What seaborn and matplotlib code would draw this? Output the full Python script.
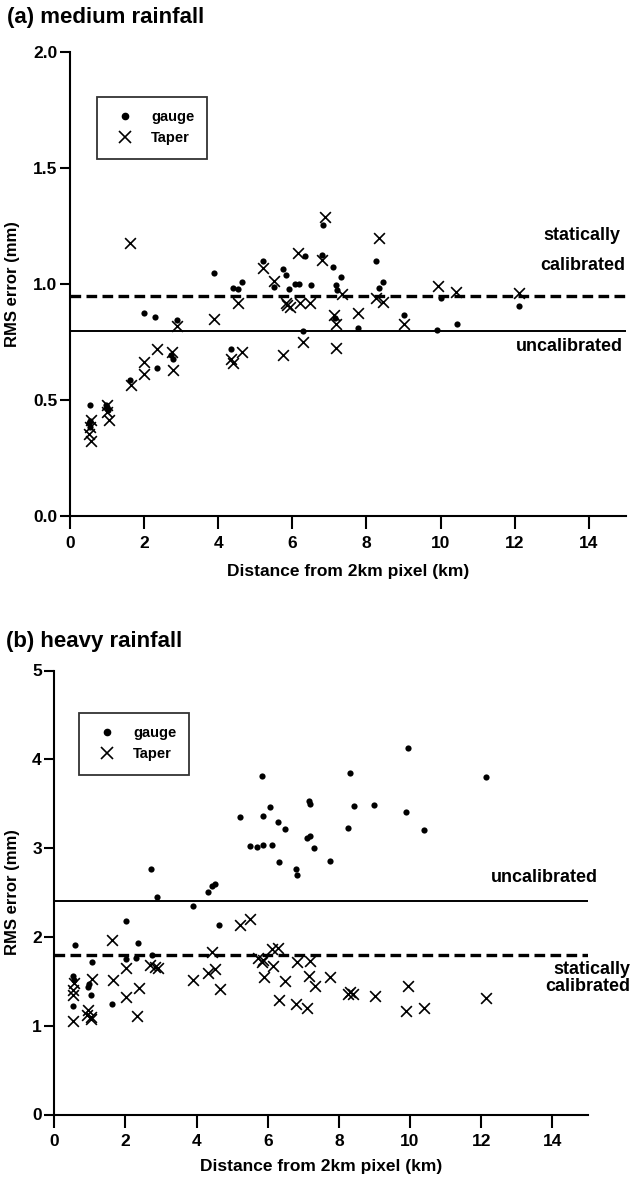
import numpy as np
import pandas as pd
import matplotlib
matplotlib.use("Agg")
import matplotlib.pyplot as plt
import seaborn as sns
from matplotlib.lines import Line2D

# ---------------- data ----------------
# panel (a) medium rainfall
a_gauge_x = [3.89, 4.41, 4.53, 4.65, 2.00, 2.30, 2.90, 2.73, 2.79, 2.36, 1.61, 0.54, 0.53, 0.55, 0.52,
             0.98, 1.02, 1.00, 4.34, 6.82, 5.22, 6.34, 6.80, 7.11, 7.31, 8.27, 8.45, 8.34, 5.74, 5.83,
             5.51, 6.08, 6.17, 6.50, 5.90, 7.18, 7.21, 10.0, 7.15, 7.76, 9.02, 9.91, 6.28, 10.45, 12.13]
a_gauge_y = [1.05, 0.985, 0.978, 1.01, 0.875, 0.857, 0.846, 0.694, 0.676, 0.641, 0.586, 0.478, 0.385, 0.41, 0.40,
             0.48, 0.46, 0.47, 0.723, 1.256, 1.10, 1.122, 1.127, 1.076, 1.03, 1.099, 1.01, 0.983, 1.065, 1.04,
             0.99, 1.0, 1.0, 0.997, 0.978, 0.997, 0.975, 0.94, 0.853, 0.81, 0.867, 0.805, 0.80, 0.831, 0.906]
a_taper_x = [1.62, 4.53, 2.90, 3.89, 2.34, 2.75, 2.79, 2.01, 2.01, 1.64, 0.56, 0.52, 0.58, 0.53, 0.99,
             0.99, 1.04, 4.34, 4.41, 4.65, 8.35, 5.22, 6.16, 6.80, 6.89, 5.51, 7.33, 5.84, 5.93, 5.86,
             6.21, 6.49, 8.27, 8.45, 9.94, 7.13, 7.17, 7.76, 9.02, 6.28, 5.74, 7.18, 10.42, 12.13]
a_taper_y = [1.18, 0.92, 0.82, 0.849, 0.719, 0.709, 0.63, 0.666, 0.615, 0.565, 0.414, 0.356, 0.324, 0.385, 0.478,
             0.45, 0.414, 0.676, 0.661, 0.709, 1.199, 1.069, 1.137, 1.105, 1.29, 1.014, 0.958, 0.918, 0.903, 0.91,
             0.92, 0.92, 0.94, 0.925, 0.993, 0.867, 0.828, 0.877, 0.828, 0.752, 0.697, 0.726, 0.968, 0.961]
a_lines = {"statically calibrated": 0.95, "uncalibrated": 0.80}

# panel (b) heavy rainfall
b_gauge_x = [9.95, 5.83, 8.31, 6.05, 5.88, 7.17, 7.19, 8.43, 8.99, 9.90, 6.28, 6.48, 8.25, 10.40, 7.10,
             7.19, 5.50, 5.71, 5.88, 6.13, 7.30, 6.33, 6.79, 6.81, 7.75, 5.22, 2.71, 4.33, 4.43, 4.52,
             2.88, 3.89, 2.02, 4.64, 0.58, 2.36, 2.74, 2.30, 2.01, 1.05, 0.53, 0.55, 0.96, 0.98, 1.03,
             1.63, 0.52, 12.13]
b_gauge_y = [4.13, 3.81, 3.85, 3.46, 3.36, 3.53, 3.50, 3.47, 3.49, 3.41, 3.29, 3.21, 3.23, 3.20, 3.11,
             3.14, 3.02, 3.01, 3.03, 3.04, 3.00, 2.84, 2.76, 2.70, 2.85, 3.35, 2.77, 2.51, 2.57, 2.60,
             2.45, 2.35, 2.18, 2.13, 1.91, 1.93, 1.80, 1.76, 1.75, 1.72, 1.56, 1.51, 1.44, 1.47, 1.35,
             1.24, 1.22, 3.80]
b_taper_x = [5.22, 5.50, 1.63, 4.43, 2.69, 2.83, 2.91, 2.02, 4.33, 4.52, 1.66, 1.07, 0.55, 0.53, 0.53,
             3.91, 4.66, 2.38, 2.02, 0.96, 0.91, 1.02, 1.02, 2.32, 0.52, 6.11, 6.30, 5.74, 5.83, 5.88,
             6.16, 6.81, 7.19, 5.90, 6.49, 7.17, 7.33, 7.75, 8.31, 8.39, 8.27, 9.02, 9.95, 6.33, 6.80,
             7.11, 9.89, 10.40, 12.13]
b_taper_y = [2.13, 2.20, 1.97, 1.83, 1.68, 1.66, 1.65, 1.65, 1.59, 1.64, 1.52, 1.53, 1.48, 1.40, 1.35,
             1.51, 1.41, 1.42, 1.32, 1.18, 1.12, 1.10, 1.07, 1.11, 1.05, 1.86, 1.87, 1.76, 1.72, 1.74,
             1.67, 1.72, 1.73, 1.55, 1.50, 1.56, 1.45, 1.55, 1.38, 1.36, 1.36, 1.33, 1.45, 1.29, 1.24,
             1.20, 1.17, 1.20, 1.31]
b_lines = {"uncalibrated": 2.40, "statically calibrated": 1.80}

titles = ["(a) medium rainfall", "(b) heavy rainfall"]
xlabel = "Distance from 2km pixel (km)"
ylabel = "RMS error (mm)"
x_ticks = [0, 2, 4, 6, 8, 10, 12, 14]
a_yticks = [0.0, 0.5, 1.0, 1.5, 2.0]
b_yticks = [0, 1, 2, 3, 4, 5]

# ---------------- style ----------------
sns.set_style("ticks")
plt.rcParams["font.family"] = ["Liberation Sans", "DejaVu Sans"]
plt.rcParams["font.weight"] = "bold"
plt.rcParams["axes.linewidth"] = 1.5
plt.rcParams["text.color"] = "black"
plt.rcParams["xtick.color"] = "black"
plt.rcParams["ytick.color"] = "black"
plt.rcParams["axes.labelcolor"] = "black"
plt.rcParams["axes.edgecolor"] = "black"

W, H = 633, 1180
fig = plt.figure(figsize=(W / 100, H / 100), dpi=100)


def px_axes(x0, x1, y_top, y_bot):
    return fig.add_axes([x0 / W, 1 - y_bot / H, (x1 - x0) / W, (y_bot - y_top) / H])


ax_a = px_axes(70, 625.8, 52.3, 516.3)
ax_b = px_axes(54.3, 587.9, 670.5, 1114.5)


def make_df(gx, gy, tx, ty):
    return pd.DataFrame({
        "x": list(gx) + list(tx),
        "y": list(gy) + list(ty),
        "series": ["gauge"] * len(gx) + ["Taper"] * len(tx),
    })


def draw(ax, df, ylim, yticks, yfmt):
    sns.scatterplot(data=df[df.series == "gauge"], x="x", y="y", ax=ax, marker="o",
                    color="black", s=20, edgecolor="black", linewidth=0, legend=False, zorder=3)
    sns.scatterplot(data=df[df.series == "Taper"], x="x", y="y", ax=ax, marker="x",
                    color="black", s=60, linewidth=1.2, legend=False, zorder=3)
    ax.set_xlim(0, 15)
    ax.set_ylim(*ylim)
    ax.set_xticks(x_ticks)
    ax.set_yticks(yticks)
    ax.set_yticklabels([yfmt.format(v) for v in yticks])
    sns.despine(ax=ax)
    ax.tick_params(axis="x", length=9, width=1.5, labelsize=12.5, pad=5, direction="out")
    ax.tick_params(axis="y", length=7, width=1.5, labelsize=12.5, pad=2, direction="out")
    ax.set_xlabel(xlabel, fontsize=12.5, fontweight="bold")
    ax.set_ylabel(ylabel, fontsize=12, fontweight="bold")


df_a = make_df(a_gauge_x, a_gauge_y, a_taper_x, a_taper_y)
df_b = make_df(b_gauge_x, b_gauge_y, b_taper_x, b_taper_y)
draw(ax_a, df_a, (0, 2.0), a_yticks, "{:.1f}")
draw(ax_b, df_b, (0, 5), b_yticks, "{:d}")

# reference lines
ax_a.axhline(a_lines["statically calibrated"], color="black", lw=2.4, ls=(0, (3.2, 1.6)), zorder=2)
ax_a.axhline(a_lines["uncalibrated"], color="black", lw=1.4, zorder=2)
ax_b.axhline(b_lines["uncalibrated"], color="black", lw=1.4, zorder=2)
ax_b.axhline(b_lines["statically calibrated"], color="black", lw=2.4, ls=(0, (3.2, 1.6)), zorder=2)

# annotations
fs_ann = 13
ax_a.text(14.85, 1.21, "statically", ha="right", va="center", fontsize=fs_ann, clip_on=False)
ax_a.text(14.98, 1.08, "calibrated", ha="right", va="center", fontsize=fs_ann, clip_on=False)
ax_a.text(14.93, 0.73, "uncalibrated", ha="right", va="center", fontsize=fs_ann, clip_on=False)
ax_b.text(15.29, 2.67, "uncalibrated", ha="right", va="center", fontsize=fs_ann, clip_on=False)
ax_b.text(16.2, 1.63, "statically", ha="right", va="center", fontsize=fs_ann, clip_on=False)
ax_b.text(16.2, 1.44, "calibrated", ha="right", va="center", fontsize=fs_ann, clip_on=False)

# axis label positions (x label: top edge; y label: right edge)
ax_a.xaxis.set_label_coords(0.5, -(564 - 516.3) / (516.3 - 52.3))
ax_b.xaxis.set_label_coords(0.5, -(1159 - 1114.5) / (1114.5 - 670.5))
ax_a.yaxis.set_label_coords(-(70 - 20) / (625.8 - 70), 0.5)
ax_b.yaxis.set_label_coords(-(54.3 - 20) / (587.9 - 54.3), 0.5)

# titles
fig.text(7 / W, 1 - 18 / H, titles[0], ha="left", va="center", fontsize=16, fontweight="bold")
fig.text(6 / W, 1 - 642 / H, titles[1], ha="left", va="center", fontsize=16, fontweight="bold")

# legends
handles = [Line2D([], [], marker="o", ls="none", color="black", markersize=4.5),
           Line2D([], [], marker="x", ls="none", color="black", markersize=8, markeredgewidth=1.2)]
for ax, (lx, ly) in [(ax_a, (97, 97)), (ax_b, (79, 713))]:
    leg = ax.legend(handles, ["gauge", "Taper"], loc="upper left",
                    bbox_to_anchor=(lx / W, 1 - ly / H), bbox_transform=fig.transFigure,
                    borderaxespad=0, frameon=True, fancybox=False,
                    prop={"size": 10.5, "weight": "bold"},
                    handletextpad=0.8, borderpad=0.9, labelspacing=0.5, handlelength=2.0)
    leg.get_frame().set_edgecolor("black")
    leg.get_frame().set_linewidth(1.3)

fig.savefig("out.png", dpi=100)
